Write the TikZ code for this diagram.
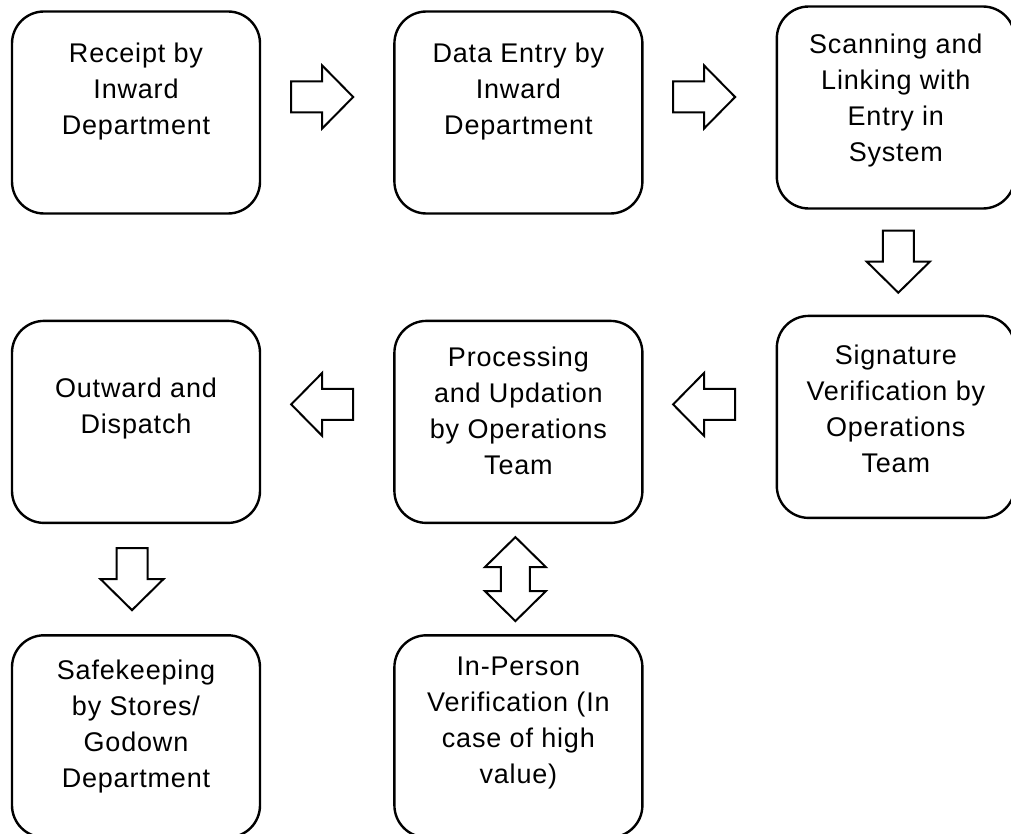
\documentclass[tikz,border=0pt]{standalone}
\usepackage{fontspec}
\setmainfont{Liberation Sans}[LetterSpace=3]
\usepackage{tikz}
\usetikzlibrary{positioning,calc}

\tikzset{
  pics/blockarr/.style={code={
    \draw[arrline] (-31,-15.5) -- (0,-15.5) -- (0,-31.5) -- (31,0)
      -- (0,31.5) -- (0,15.5) -- (-31,15.5) -- cycle;
  }},
  pics/dblarr/.style={code={
    \draw[arrline] (-42,0) -- (-12,-30.5) -- (-12,-14.5) -- (12,-14.5)
      -- (12,-30.5) -- (42,0) -- (12,30.5) -- (12,14.5) -- (-12,14.5)
      -- (-12,30.5) -- cycle;
  }}
}

\begin{document}
\begin{tikzpicture}[
  x=0.5pt, y=-0.5pt,
  font=\fontsize{13.5}{18}\selectfont,
  node distance=52.5pt and 66pt,
  stage/.style={
    rectangle, rounded corners=16pt, draw=black, line width=1.2pt,
    minimum width=124pt, minimum height=101pt, inner sep=0pt
  },
  stagetxt/.style={align=center, inner sep=0pt},
  arrline/.style={draw=black, fill=white, line width=1pt, line join=miter}
]
\useasboundingbox (0,0) rectangle (1011,834);

% --- Row 1: inward ---
\node[stage] (recv) at (136,112.5) {};
\node[stage, right=of recv] (entry) {};
\node[stage, right=of entry, yshift=2.5pt, minimum width=119pt] (scan) {};

% --- Row 2: checks and processing ---
\node[stage, below=of scan, minimum width=119pt] (verify) {};
\node[stage, left=of verify, yshift=-2.5pt] (process) {};
\node[stage, left=of process] (outward) {};

% --- Row 3 ---
\node[stage, below=55pt of outward] (safe) {};
\node[stage, below=55pt of process] (inperson) {};

% --- Box texts ---
\node[stagetxt] (recv-t) at ([yshift=10.5pt]recv.center) {Receipt by\\Inward\\Department};
\node[stagetxt] (entry-t) at ([yshift=10.5pt]entry.center) {Data Entry by\\Inward\\Department};
\node[stagetxt] (scan-t) at ([yshift=3.5pt]scan.center) {Scanning and\\Linking with\\Entry in\\System};
\node[stagetxt] (verify-t) at ([yshift=4pt]verify.center) {Signature\\Verification by\\Operations\\Team};
\node[stagetxt] (process-t) at ([yshift=5.5pt]process.center) {Processing\\and Updation\\by Operations\\Team};
\node[stagetxt] (outward-t) at ([yshift=6.5pt]outward.center) {Outward and\\Dispatch};
\node[stagetxt] (safe-t) at ([yshift=5pt]safe.center) {Safekeeping\\by Stores/\\Godown\\Department};
\node[stagetxt] (inperson-t) at ([yshift=6.5pt]inperson.center) {In-Person\\Verification (In\\case of high\\value)};

% --- Block arrows ---
\foreach \from/\to/\ang/\dx/\dy in {recv/entry/0/-5/-15.5, entry/scan/0/-3/-13,
    scan/verify/-90/2.5/-0.5, verify/process/180/-3/-15,
    process/outward/180/-5/-17.5, outward/safe/-90/-4/0}
  \pic[rotate=\ang] at ($(\from)!.5!(\to)+(\dx,\dy)$) {blockarr};
\pic[rotate=90] at ($(process)!.5!(inperson)+(-3,0)$) {dblarr};

\end{tikzpicture}
\end{document}
